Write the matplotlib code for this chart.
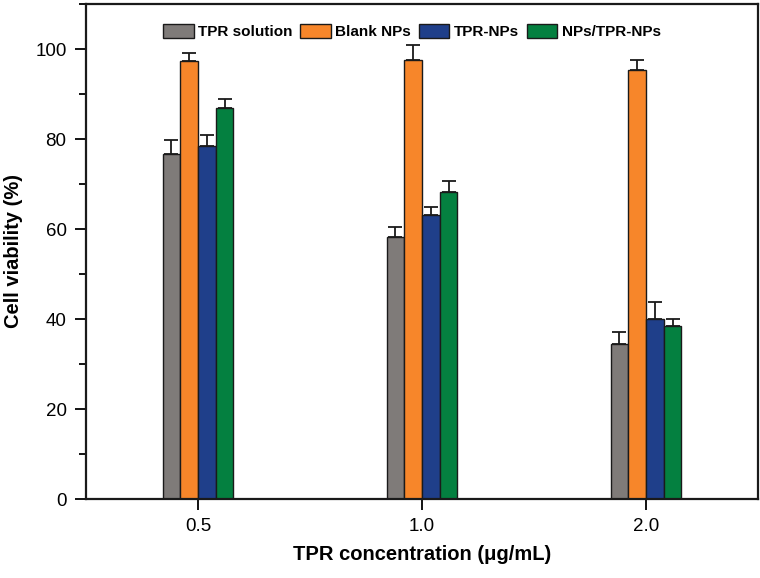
import matplotlib
matplotlib.use("Agg")
import matplotlib.pyplot as plt
import numpy as np
from matplotlib.ticker import MultipleLocator

plt.rcParams['font.family'] = ['Liberation Sans', 'DejaVu Sans']

categories = ["0.5", "1.0", "2.0"]
series_names = ["TPR solution", "Blank NPs", "TPR-NPs", "NPs/TPR-NPs"]
tpr_solution = [76.7, 58.2, 34.5]
blank_nps = [97.3, 97.5, 95.3]
tpr_nps = [78.5, 63.2, 40.0]
nps_tpr_nps = [86.8, 68.2, 38.5]
tpr_solution_err = [3.1, 2.3, 2.7]
blank_nps_err = [1.9, 3.5, 2.2]
tpr_nps_err = [2.5, 1.8, 3.7]
nps_tpr_nps_err = [2.2, 2.5, 1.5]

values = [tpr_solution, blank_nps, tpr_nps, nps_tpr_nps]
errors = [tpr_solution_err, blank_nps_err, tpr_nps_err, nps_tpr_nps_err]
colors = ["#7f7b79", "#f7862a", "#1f3f8a", "#048040"]

fig = plt.figure(figsize=(7.6, 5.78), dpi=100)
ax = fig.add_axes([86/760, 1 - 499/578, (758-86)/760, (499-4)/578])

x = np.arange(len(categories))
w = 0.079
for i, (v, e, c, n) in enumerate(zip(values, errors, colors, series_names)):
    pos = x + (i - 1.5) * w
    ax.bar(pos, v, width=w, color=c, edgecolor="#1a1a1a", linewidth=1.0, label=n, zorder=2)
    ax.errorbar(pos, v, yerr=[np.zeros(len(e)), e], fmt="none", ecolor="#1a1a1a",
                elinewidth=1.3, capsize=5, capthick=1.3, zorder=3)

ax.set_xlim(-0.5, 2.5)
ax.set_ylim(0, 110)
ax.set_xticks(x)
ax.set_xticklabels(categories)
ax.yaxis.set_major_locator(MultipleLocator(20))
ax.yaxis.set_minor_locator(MultipleLocator(10))
ax.tick_params(axis='both', direction='out', labelsize=13.5, width=1.3, length=8, pad=6)
ax.tick_params(axis='y', which='minor', direction='out', width=1.3, length=5)
ax.tick_params(axis='x', which='minor', bottom=False)
for s in ax.spines.values():
    s.set_linewidth(1.6)
    s.set_color("#1a1a1a")

ax.set_xlabel("TPR concentration (\u03bcg/mL)", fontsize=14.5, fontweight='bold', labelpad=7)
ax.set_ylabel("Cell viability (%)", fontsize=14.5, fontweight='bold', labelpad=9)

leg = ax.legend(loc='upper center', bbox_to_anchor=(0.485, 1.0), ncol=4, frameon=False,
                prop={'weight': 'bold', 'size': 11}, handlelength=2.0, handleheight=1.0,
                handletextpad=0.3, columnspacing=0.5, borderaxespad=0.9)

fig.savefig("out.png", dpi=100)
